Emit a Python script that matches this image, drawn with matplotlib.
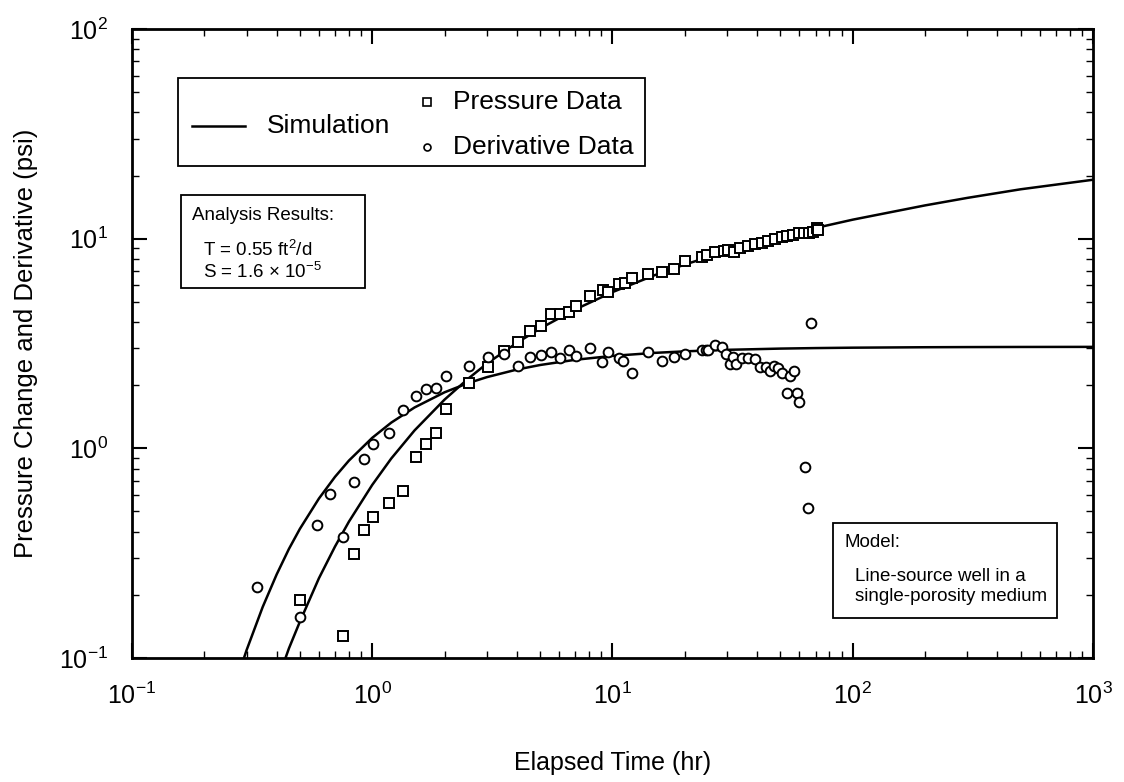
import numpy as np
import matplotlib
matplotlib.use("Agg")
from matplotlib import pyplot as plt
from matplotlib.patches import Rectangle

plt.rcParams['font.family'] = ['Liberation Sans', 'DejaVu Sans']
plt.rcParams['mathtext.fontset'] = 'custom'
plt.rcParams['mathtext.rm'] = 'Liberation Sans'
plt.rcParams['mathtext.it'] = 'Liberation Sans:italic'
plt.rcParams['mathtext.bf'] = 'Liberation Sans:bold'

# simulation curves
sim_t = [0.28, 0.3, 0.35, 0.4, 0.45, 0.5, 0.6, 0.7, 0.8, 1, 1.2, 1.5, 2, 2.5, 3, 4, 5, 7,
         10, 15, 20, 30, 50, 70, 100, 200, 300, 500, 1000]
sim_deriv = [0.086, 0.109, 0.175, 0.250, 0.331, 0.413, 0.576, 0.731, 0.874, 1.122, 1.326,
             1.566, 1.850, 2.044, 2.185, 2.375, 2.497, 2.644, 2.760, 2.853, 2.901, 2.950,
             2.990, 3.007, 3.020, 3.035, 3.040, 3.044, 3.047]
sim_press_t = [0.4, 0.45, 0.5, 0.6, 0.7, 0.8, 1, 1.2, 1.5, 2, 2.5, 3, 4, 5, 7,
               10, 15, 20, 30, 50, 70, 100, 200, 300, 500, 1000]
sim_press = [0.076, 0.111, 0.149, 0.240, 0.340, 0.447, 0.669, 0.894, 1.217, 1.707, 2.142,
             2.535, 3.185, 3.729, 4.595, 5.560, 6.699, 7.527, 8.714, 10.23, 11.24, 12.32,
             14.41, 15.65, 17.20, 19.10]

# pressure data
p_t = [0.501, 0.755, 0.842, 0.926, 1.01, 1.177, 1.342, 1.515, 1.678, 1.847, 2.026, 2.52,
       3.03, 3.54, 4.05, 4.55, 5.04, 5.54, 6.06, 6.59, 7.07, 8.08, 9.1, 9.6, 10.6, 11.3,
       12.1, 14.1, 16.1, 18.1, 20.1, 23.6, 24.7, 26.8, 29.0, 30.4, 31.9, 34.0, 36.8, 39.3,
       41.9, 44.6, 47.6, 50.7, 53.5, 56.4, 59.5, 62.4, 65.5, 68.3, 71.0, 71.4]
p_val = [0.188, 0.127, 0.314, 0.408, 0.469, 0.548, 0.626, 0.912, 1.048, 1.183, 1.54, 2.055,
         2.43, 2.92, 3.21, 3.63, 3.83, 4.37, 4.36, 4.45, 4.77, 5.31, 5.67, 5.56, 6.1, 6.13,
         6.47, 6.78, 6.95, 7.14, 7.85, 8.20, 8.35, 8.66, 8.76, 8.82, 8.66, 8.99, 9.22, 9.42,
         9.55, 9.74, 9.92, 10.14, 10.29, 10.44, 10.6, 10.6, 10.67, 10.78, 11.3, 10.95]

# derivative data
d_t = [0.333, 0.501, 0.589, 0.669, 0.755, 0.842, 0.926, 1.01, 1.177, 1.342, 1.515, 1.678,
       1.847, 2.026, 2.52, 3.03, 3.54, 4.05, 4.55, 5.04, 5.54, 6.06, 6.59, 7.07, 8.08, 9.06,
       9.6, 10.6, 11.1, 12.1, 14.1, 16.1, 18.1, 20.1, 23.6, 24.4, 25.0, 26.6, 28.5, 29.8,
       30.7, 31.6, 32.6, 34.6, 36.8, 39.3, 41.2, 43.5, 45.4, 47.1, 48.8, 50.7, 55.0, 57.1,
       53.2, 58.6, 59.9, 63.4, 65.1, 67.2]
d_val = [0.217, 0.156, 0.431, 0.604, 0.379, 0.691, 0.889, 1.048, 1.183, 1.522, 1.776, 1.91,
         1.93, 2.22, 2.48, 2.72, 2.81, 2.48, 2.73, 2.79, 2.88, 2.70, 2.94, 2.77, 3.02, 2.57,
         2.88, 2.69, 2.61, 2.28, 2.89, 2.60, 2.73, 2.82, 2.94, 2.94, 2.93, 3.11, 3.05, 2.82,
         2.52, 2.72, 2.53, 2.69, 2.69, 2.66, 2.45, 2.44, 2.34, 2.48, 2.41, 2.28, 2.21, 2.34,
         1.83, 1.83, 1.67, 0.817, 0.518, 3.95]

fig = plt.figure(figsize=(11.24, 7.82), dpi=100)
ax = fig.add_axes([0.1174, 0.1586, 0.855, 0.8043])

ax.plot(sim_t, sim_deriv, color='black', lw=1.8, zorder=3)
ax.plot(sim_press_t, sim_press, color='black', lw=1.8, zorder=3)
ax.plot(p_t, p_val, ls='none', marker='s', ms=7.5, mfc='white', mec='black', mew=1.4, zorder=4)
ax.plot(d_t, d_val, ls='none', marker='o', ms=7, mfc='white', mec='black', mew=1.4, zorder=4)

ax.set_xscale('log')
ax.set_yscale('log')
ax.set_xlim(0.1, 1000)
ax.set_ylim(0.1, 100)

for s in ax.spines.values():
    s.set_linewidth(2)
ax.tick_params(which='both', direction='in', top=True, right=True, labelsize=18)
ax.tick_params(which='major', length=11, width=1.5)
ax.tick_params(which='minor', length=5, width=1.0)
ax.tick_params(axis='x', pad=18)
ax.tick_params(axis='y', pad=17)

ax.set_xlabel('Elapsed Time (hr)', fontsize=18, labelpad=30)
ax.set_ylabel('Pressure Change and Derivative (psi)', fontsize=18.5, labelpad=15)

# legend box
tr = ax.transAxes
def ax_xy(px, py):
    return ((px - 132) / 961.0, (658 - py) / 629.0)

x0, y0 = ax_xy(178, 166)
x1, y1 = ax_xy(645, 78)
ax.add_patch(Rectangle((x0, y0), x1 - x0, y1 - y0, transform=tr, fill=False,
                       lw=1.3, ec='black', zorder=5))
la, lb = ax_xy(192, 126), ax_xy(245, 126)
ax.plot([la[0], lb[0]], [la[1], lb[1]], transform=tr, color='black', lw=1.8, zorder=6)
tx = ax_xy(267, 126)
ax.text(tx[0], tx[1], 'Simulation', transform=tr, fontsize=19, va='center', ha='left')
m1 = ax_xy(427, 102)
ax.plot([m1[0]], [m1[1]], transform=tr, marker='s', ms=5.5, mfc='white', mec='black', mew=1.2)
t1 = ax_xy(453, 102)
ax.text(t1[0], t1[1], 'Pressure Data', transform=tr, fontsize=19, va='center', ha='left')
m2 = ax_xy(427, 147)
ax.plot([m2[0]], [m2[1]], transform=tr, marker='o', ms=5, mfc='white', mec='black', mew=1.2)
t2 = ax_xy(453, 147)
ax.text(t2[0], t2[1], 'Derivative Data', transform=tr, fontsize=19, va='center', ha='left')

# analysis results box
x0, y0 = ax_xy(181, 288)
x1, y1 = ax_xy(365, 195)
ax.add_patch(Rectangle((x0, y0), x1 - x0, y1 - y0, transform=tr, fill=False,
                       lw=1.3, ec='black', zorder=5))
a = ax_xy(192, 215)
ax.text(a[0], a[1], 'Analysis Results:', transform=tr, fontsize=13.5, va='center')
a = ax_xy(203, 250)
ax.text(a[0], a[1], 'T = 0.55 ft$^{2}$/d', transform=tr, fontsize=13.5, va='center')
a = ax_xy(203, 272)
ax.text(a[0], a[1], 'S = 1.6 $\\times$ 10$^{-5}$', transform=tr, fontsize=13.5, va='center')

# model box
x0, y0 = ax_xy(833, 618)
x1, y1 = ax_xy(1057, 523)
ax.add_patch(Rectangle((x0, y0), x1 - x0, y1 - y0, transform=tr, fill=False,
                       lw=1.3, ec='black', zorder=5))
a = ax_xy(845, 543)
ax.text(a[0], a[1], 'Model:', transform=tr, fontsize=13.5, va='center')
a = ax_xy(855, 577)
ax.text(a[0], a[1], 'Line-source well in a', transform=tr, fontsize=13.5, va='center')
a = ax_xy(855, 597)
ax.text(a[0], a[1], 'single-porosity medium', transform=tr, fontsize=13.5, va='center')

fig.savefig('out.png', dpi=100)
